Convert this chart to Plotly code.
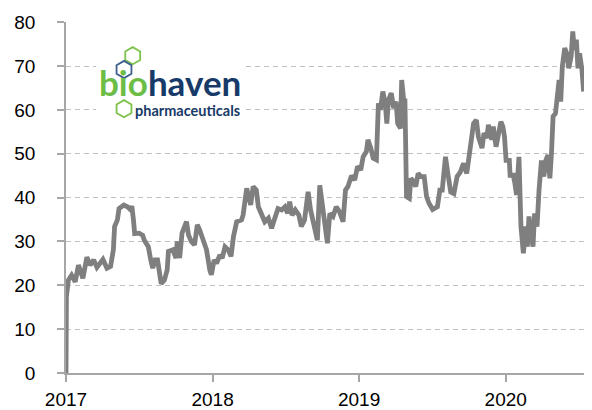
import plotly.graph_objects as go

# Daily-close samples of the share price (USD)
dates = [
    "2017-01-01", "2017-01-02", "2017-01-07", "2017-01-15", "2017-01-24", "2017-02-01",
    "2017-02-12", "2017-02-22", "2017-03-02", "2017-03-11", "2017-03-19", "2017-03-26",
    "2017-04-03", "2017-04-13", "2017-04-22", "2017-04-29", "2017-05-02", "2017-05-09",
    "2017-05-13", "2017-05-25", "2017-06-03", "2017-06-11", "2017-06-14", "2017-06-18",
    "2017-06-21", "2017-07-02", "2017-07-11", "2017-07-15", "2017-07-25", "2017-07-31",
    "2017-08-05", "2017-08-11", "2017-08-17", "2017-08-26", "2017-09-03", "2017-09-10",
    "2017-09-13", "2017-09-24", "2017-10-02", "2017-10-05", "2017-10-11", "2017-10-17",
    "2017-10-28", "2017-11-02", "2017-11-09", "2017-11-17", "2017-11-24", "2017-11-30",
    "2017-12-09", "2017-12-17", "2017-12-25", "2017-12-29",
    "2018-01-05", "2018-01-11", "2018-01-19", "2018-01-25", "2018-02-01", "2018-02-09",
    "2018-02-16", "2018-02-22", "2018-03-02", "2018-03-14", "2018-03-18", "2018-03-27",
    "2018-03-31", "2018-04-06", "2018-04-12", "2018-04-20", "2018-04-25", "2018-05-03",
    "2018-05-11", "2018-05-20", "2018-05-28", "2018-06-05", "2018-06-13", "2018-06-22",
    "2018-06-30", "2018-07-07", "2018-07-12", "2018-07-18", "2018-07-26", "2018-08-04",
    "2018-08-10", "2018-08-18", "2018-08-27", "2018-09-02", "2018-09-08", "2018-09-19",
    "2018-09-25", "2018-10-01", "2018-10-07", "2018-10-14", "2018-10-20", "2018-10-28",
    "2018-11-05", "2018-11-13", "2018-11-22", "2018-11-28", "2018-12-04", "2018-12-13",
    "2018-12-21", "2018-12-28",
    "2019-01-05", "2019-01-11", "2019-01-19", "2019-01-23", "2019-01-30", "2019-02-05",
    "2019-02-13", "2019-02-15", "2019-02-18", "2019-02-23", "2019-03-01", "2019-03-07",
    "2019-03-11", "2019-03-15", "2019-03-22", "2019-03-28", "2019-04-03", "2019-04-07",
    "2019-04-14", "2019-04-17", "2019-04-22", "2019-04-25", "2019-04-29", "2019-05-06",
    "2019-05-10", "2019-05-17", "2019-05-22", "2019-05-28", "2019-06-04", "2019-06-12",
    "2019-06-18", "2019-06-24", "2019-07-03", "2019-07-15", "2019-07-21", "2019-07-27",
    "2019-08-04", "2019-08-10", "2019-08-17", "2019-08-25", "2019-09-02", "2019-09-10",
    "2019-09-18", "2019-09-26", "2019-10-05", "2019-10-13", "2019-10-20", "2019-10-25",
    "2019-11-03", "2019-11-08", "2019-11-15", "2019-11-19", "2019-11-27", "2019-12-01",
    "2019-12-08", "2019-12-14", "2019-12-20", "2019-12-25", "2019-12-29",
    "2020-01-02", "2020-01-10", "2020-01-12", "2020-01-20", "2020-01-24", "2020-01-28",
    "2020-02-03", "2020-02-05", "2020-02-08", "2020-02-14", "2020-02-20", "2020-02-24",
    "2020-02-28", "2020-03-04", "2020-03-09", "2020-03-13", "2020-03-19", "2020-03-24",
    "2020-03-30", "2020-04-05", "2020-04-10", "2020-04-15", "2020-04-20", "2020-04-24",
    "2020-04-28", "2020-05-04", "2020-05-08", "2020-05-13", "2020-05-17", "2020-05-21",
    "2020-05-27", "2020-06-01", "2020-06-06", "2020-06-12", "2020-06-16", "2020-06-20",
    "2020-06-25", "2020-06-29", "2020-07-03", "2020-07-09", "2020-07-13",
]

prices = [
    0.0, 17.4, 21.2, 22.3, 20.8, 24.6,
    21.6, 26.4, 24.6, 25.8, 24.1, 24.9,
    25.9, 23.9, 24.3, 28.1, 33.4, 34.9,
    37.5, 38.3, 37.9, 37.2, 38.1, 34.9,
    31.8, 31.9, 31.4, 30.3, 28.8, 25.8,
    23.9, 25.8, 25.8, 20.4, 21.2, 23.5,
    27.7, 28.1, 26.2, 30.0, 26.2, 31.9,
    34.5, 31.5, 30.0, 29.2, 33.8, 32.6,
    30.3, 28.1, 23.5, 22.4,
    25.8, 25.0, 26.9, 26.2, 28.8, 28.1,
    26.6, 31.1, 34.5, 34.9, 36.0, 42.1,
    40.6, 38.3, 42.5, 41.7, 37.9, 36.4,
    34.5, 35.3, 33.0, 35.3, 37.5, 37.2,
    37.9, 36.4, 39.1, 36.0, 37.2, 36.0,
    33.4, 34.9, 41.3, 37.2, 34.5, 30.3,
    42.8, 38.7, 36.4, 29.6, 36.4, 35.7,
    37.9, 36.8, 34.5, 41.7, 42.5, 45.0,
    44.0, 47.1,
    46.3, 49.3, 50.5, 53.2, 51.3, 49.0,
    48.6, 58.1, 61.5, 60.0, 64.2, 61.5,
    56.9, 62.2, 63.8, 60.4, 61.9, 56.9,
    55.8, 66.8, 62.2, 62.6, 40.2, 39.8,
    44.4, 43.6, 42.5, 45.5, 44.8, 44.8,
    40.2, 38.7, 37.3, 37.9, 41.7, 41.7,
    49.3, 45.5, 41.3, 40.9, 44.8, 45.8,
    47.8, 45.5, 50.8, 56.9, 57.7, 53.9,
    51.3, 54.7, 53.6, 56.6, 53.2, 56.2,
    51.6, 55.4, 57.3, 56.2, 53.9,
    48.5, 48.5, 45.1, 45.1, 43.2, 40.6,
    49.3, 44.8, 33.4, 27.3, 33.4, 28.8,
    35.7, 31.9, 28.8, 36.4, 33.4, 41.7,
    48.5, 44.8, 48.5, 49.7, 44.4, 50.1,
    58.5, 59.2, 63.0, 66.8, 61.9, 69.9,
    74.1, 72.9, 69.5, 72.2, 77.9, 73.7,
    76.0, 69.5, 72.9, 69.1, 64.2,
]

year_ticks = ["2017-01-01", "2018-01-01", "2019-01-01", "2020-01-01"]
year_labels = ["2017", "2018", "2019", "2020"]

fig = go.Figure()
fig.add_trace(go.Scatter(
    x=dates, y=prices, mode="lines",
    line=dict(color="#7f7f7f", width=4.8),
    showlegend=False, hoverinfo="skip",
))

axis_font = dict(family="Liberation Sans Narrow, Arial Narrow, sans-serif", size=19, color="#000000")

fig.update_xaxes(
    range=["2017-01-01", "2020-07-14"],
    tickvals=year_ticks, ticktext=year_labels,
    showgrid=False, zeroline=False, automargin=False,
    showline=True, linecolor="#a6a6a6", linewidth=1.5,
    ticks="outside", ticklen=7, tickwidth=1.5, tickcolor="#a6a6a6",
    tickfont=axis_font, ticklabelstandoff=1,
)
fig.update_yaxes(
    range=[0, 80.05], tickvals=[0, 10, 20, 30, 40, 50, 60, 70, 80],
    showgrid=True, gridcolor="#c0c0c0", gridwidth=1.2, griddash="5px,4px",
    zeroline=False, automargin=False,
    showline=True, linecolor="#a6a6a6", linewidth=1.5,
    ticks="outside", ticklen=7, tickwidth=1.5, tickcolor="#a6a6a6",
    tickfont=axis_font, ticklabelstandoff=18,
)

# Company logo: white backing, hexagon motif and wordmark
PW, PH = 518.0, 351.0  # plot area size in px


def px(xp):
    return (xp - 66.0) / PW


def py(yp):
    return (373.0 - yp) / PH


shapes = [dict(
    type="rect", xref="paper", yref="paper",
    x0=px(96), x1=px(246), y0=py(122), y1=py(40),
    fillcolor="#ffffff", line=dict(width=0), layer="above",
)]

R = 8.6
hex_path = "M 0 {a} L {b} {c} L {b} {d} L 0 {e} L {f} {d} L {f} {c} Z".format(
    a=-R, b=R * 0.866, c=-R / 2, d=R / 2, e=R, f=-R * 0.866)
for cx, cy, col in [(132.7, 55.7, "#7dc24b"), (124.0, 69.5, "#3e5f8e"), (124.0, 108.7, "#7dc24b")]:
    shapes.append(dict(
        type="path", xref="paper", yref="paper",
        xsizemode="pixel", ysizemode="pixel",
        xanchor=px(cx), yanchor=py(cy),
        path=hex_path, fillcolor="rgba(255,255,255,0)",
        line=dict(color=col, width=1.8), layer="above",
    ))
fig.update_layout(shapes=shapes)

fig.add_annotation(
    xref="paper", yref="paper", x=px(97.5), y=py(82), xanchor="left", yanchor="middle",
    text='<span style="color:#6cbd45">bio</span><span style="color:#173a68">haven</span>',
    showarrow=False, borderpad=0,
    font=dict(family="Lato, sans-serif", size=35, weight="bold"),
)
fig.add_annotation(
    xref="paper", yref="paper", x=px(133.5), y=py(110.5), xanchor="left", yanchor="middle",
    text="pharmaceuticals", showarrow=False, borderpad=0,
    font=dict(family="Lato, sans-serif", size=14.5, color="#173a68", weight="bold"),
)

fig.update_layout(
    width=592, height=410,
    margin=dict(l=66, r=8, t=22, b=37),
    paper_bgcolor="#ffffff", plot_bgcolor="#ffffff",
)

fig.write_html("out.html")
